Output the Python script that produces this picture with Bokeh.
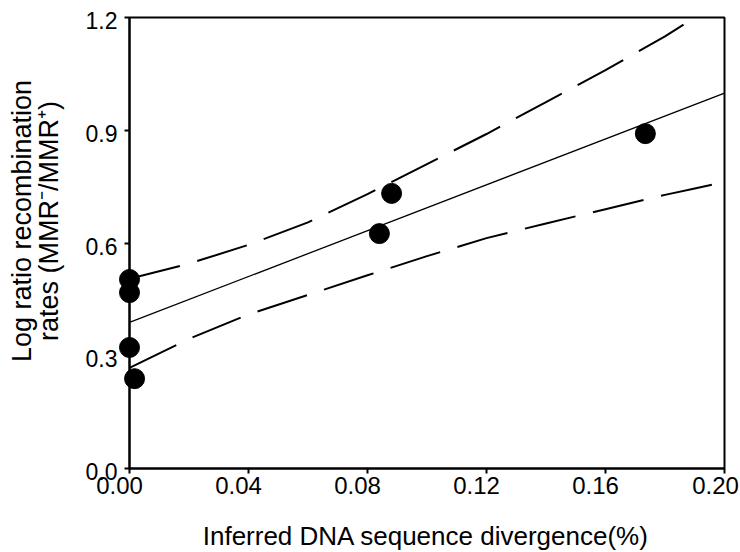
import math
import numpy as np
from bokeh.plotting import figure
from bokeh.models import FixedTicker, Range1d
from bokeh.core.properties import value
from bokeh.embed import file_html
from bokeh.resources import INLINE

# ---- data ----
divergence = [0.0, 0.0, 0.0, 0.0017, 0.0840, 0.0881, 0.1734]
log_ratio = [0.503, 0.468, 0.322, 0.239, 0.625, 0.732, 0.891]

band_x = [0.00, 0.02, 0.04, 0.06, 0.08, 0.10, 0.12, 0.14, 0.16, 0.18, 0.19, 0.20]
band_upper = [0.505, 0.545, 0.595, 0.655, 0.730, 0.810, 0.890, 0.975, 1.060, 1.150, 1.200, 1.245]
band_lower = [0.268, 0.345, 0.410, 0.462, 0.514, 0.565, 0.613, 0.652, 0.690, 0.728, 0.745, 0.762]

x_ticks = [0.0, 0.04, 0.08, 0.12, 0.16, 0.20]
x_tick_labels = ["0.00", "0.04", "0.08", "0.12", "0.16", "0.20"]
y_ticks = [0.0, 0.3, 0.6, 0.9, 1.2]
y_tick_labels = ["0.0", "0.3", "0.6", "0.9", "1.2"]

x_title = "Inferred DNA sequence divergence(%)"
y_title_lines = ["Log ratio recombination", "rates (MMR\u207b/MMR\u207a)"]

FONT = "Liberation Sans"

# regression line from the data
slope, intercept = np.polyfit(divergence, log_ratio, 1)
reg_x = [x_ticks[0], x_ticks[-1]]
reg_y = [intercept + slope * v for v in reg_x]

p = figure(width=740, height=552, output_backend="svg", toolbar_location=None,
           x_range=Range1d(0, 0.2), y_range=Range1d(0, 1.2),
           min_border_left=129, min_border_right=16, min_border_top=17,
           min_border_bottom=84)
p.background_fill_color = "white"
p.border_fill_color = "white"
p.grid.visible = False
p.outline_line_color = "black"
p.outline_line_width = 2
p.outline_line_alpha = 1.0

# axes: lines and ticks only; texts are drawn below
for ax, ticks in ((p.xaxis, x_ticks), (p.yaxis, y_ticks)):
    ax.ticker = FixedTicker(ticks=ticks)
    ax.axis_line_width = 2
    ax.axis_line_color = "black"
    ax.major_tick_line_width = 2
    ax.major_tick_out = 5
    ax.major_tick_in = 0
    ax.minor_tick_line_color = None
    ax.major_label_overrides = {t: "" for t in ticks}
    ax.major_label_text_font_size = "1px"
    ax.major_label_standoff = 0

txt = dict(text_font=value(FONT), text_color="black", level="overlay")

# x tick labels (slightly left of their ticks, as in the reference)
p.text(x=x_ticks, y=[0] * len(x_ticks), text=x_tick_labels,
       text_font_size="24px", text_align="center", text_baseline="top",
       x_offset=[-10, -10, -10, -10, -10, -9], y_offset=8, **txt)

# y tick labels
p.text(x=[0] * len(y_ticks), y=y_ticks, text=y_tick_labels,
       text_font_size="23px", text_align="right", text_baseline="middle",
       x_offset=-12, y_offset=3, **txt)

# x axis title
p.text(x=[0.1], y=[0], text=[x_title], text_font_size="26px",
       text_align="center", text_baseline="top",
       x_offset=-1, y_offset=52, **txt)

# y axis title (two lines)
p.text(x=[0, 0], y=[0.6, 0.6], text=y_title_lines, text_font_size="27px",
       text_align="center", text_baseline="middle", angle=math.pi / 2,
       x_offset=[-107.5, -81], y_offset=-22, **txt)

# confidence bands
p.line(band_x, band_upper, line_color="black", line_width=2, line_dash="52 18")
p.line(band_x, band_lower, line_color="black", line_width=2, line_dash="52 18")

# regression line
p.line(reg_x, reg_y, line_color="black", line_width=1.3)

# data points
p.scatter(divergence, log_ratio, size=20, fill_color="black", line_color="black",
          level="overlay")

open("out.html", "w").write(file_html(p, INLINE))
